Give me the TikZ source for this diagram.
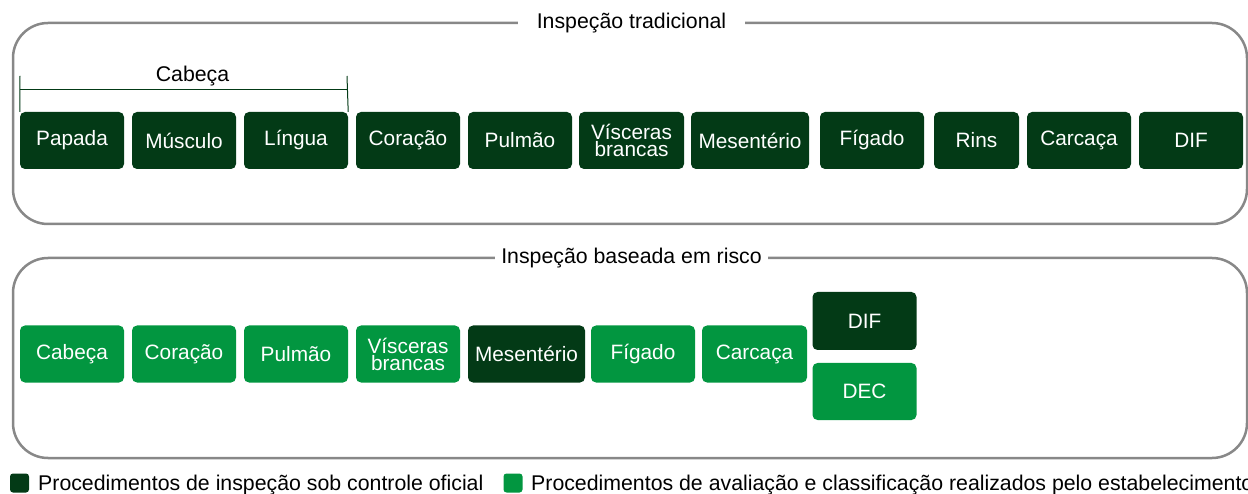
\documentclass[tikz,border=0pt]{standalone}
\usepackage{fontspec}
\setmainfont{Liberation Sans}
\definecolor{dkg}{RGB}{3,58,22}
\definecolor{ltg}{RGB}{2,150,64}
\definecolor{frm}{RGB}{136,136,136}
\begin{document}
\begin{tikzpicture}[x=1pt,y=-1pt,
  box/.style={rounded corners=5pt, minimum width=104pt, minimum height=57pt, inner sep=0pt,
    text=white, font=\fontsize{20.8}{17}\selectfont, align=center},
  dk/.style={box, fill=dkg},
  lt/.style={box, fill=ltg},
  frm/.style={draw=frm, line width=2.5pt, rounded corners=35pt},
  ttl/.style={fill=white, font=\fontsize{21.3}{24}\selectfont, inner ysep=2pt},
  brk/.style={draw=dkg, line width=1pt},
  leg/.style={font=\fontsize{21.3}{24}\selectfont, anchor=base west, inner sep=0pt},
  sq/.style={rounded corners=3pt, minimum width=19pt, minimum height=19pt, inner sep=0pt}]
\useasboundingbox (0,0) rectangle (1248,494);

% frames
\draw[frm] (13,23) rectangle (1247,224);
\node[ttl, inner xsep=19pt] (t1) at (631.5,23) {Inspeção tradicional};
\draw[frm] (13,258) rectangle (1247,458);
\node[ttl, inner xsep=6pt] (t2) at (631.5,258) {Inspeção baseada em risco};

% top row
\node[dk] (a1) at (72,140.5) {Papada};
\node[dk] (a2) at (184,140.5) {Músculo};
\node[dk] (a3) at (296,140.5) {Língua};
\node[dk] (a4) at (408,140.5) {Coração};
\node[dk] (a5) at (520,140.5) {Pulmão};
\node[dk, minimum width=105pt] (a6) at (631.5,140.5) {Vísceras\\brancas};
\node[dk, minimum width=118pt] (a7) at (750,140.5) {Mesentério};
\node[dk] (a8) at (872,140.5) {Fígado};
\node[dk, minimum width=85pt] (a9) at (976.5,140.5) {Rins};
\node[dk] (a10) at (1079,140.5) {Carcaça};
\node[dk] (a11) at (1191,140.5) {DIF};

% Cabeça bracket
\coordinate (bl) at (20,76);
\coordinate (br) at (347,76);
\draw[brk] (bl) -- (a1.north west);
\draw[brk] (br) -- (a3.north east);
\draw[brk] (20,90) -- (347,90);
\node[font=\fontsize{21.3}{24}\selectfont] (cab) at (192.5,76) {Cabeça};

% bottom row
\node[lt] (b1) at (72,354) {Cabeça};
\node[lt] (b2) at (184,354) {Coração};
\node[lt] (b3) at (296,354) {Pulmão};
\node[lt] (b4) at (408,354) {Vísceras\\brancas};
\node[dk, minimum width=117pt] (b5) at (526.5,354) {Mesentério};
\node[lt] (b6) at (643,354) {Fígado};
\node[lt, minimum width=105pt] (b7) at (754.5,354) {Carcaça};
\node[dk, minimum height=58pt] (b8) at (864.5,321) {DIF};
\node[lt, minimum height=57pt] (b9) at (864.5,391.5) {DEC};

% legend
\node[sq, fill=dkg] (l1) at (19.5,483) {};
\node[leg] (lt1) at (38,490) {Procedimentos de inspeção sob controle oficial};
\node[sq, fill=ltg] (l2) at (513,483) {};
\node[leg] (lt2) at (531,490) {Procedimentos de avaliação e classificação realizados pelo estabelecimento};
\end{tikzpicture}
\end{document}
